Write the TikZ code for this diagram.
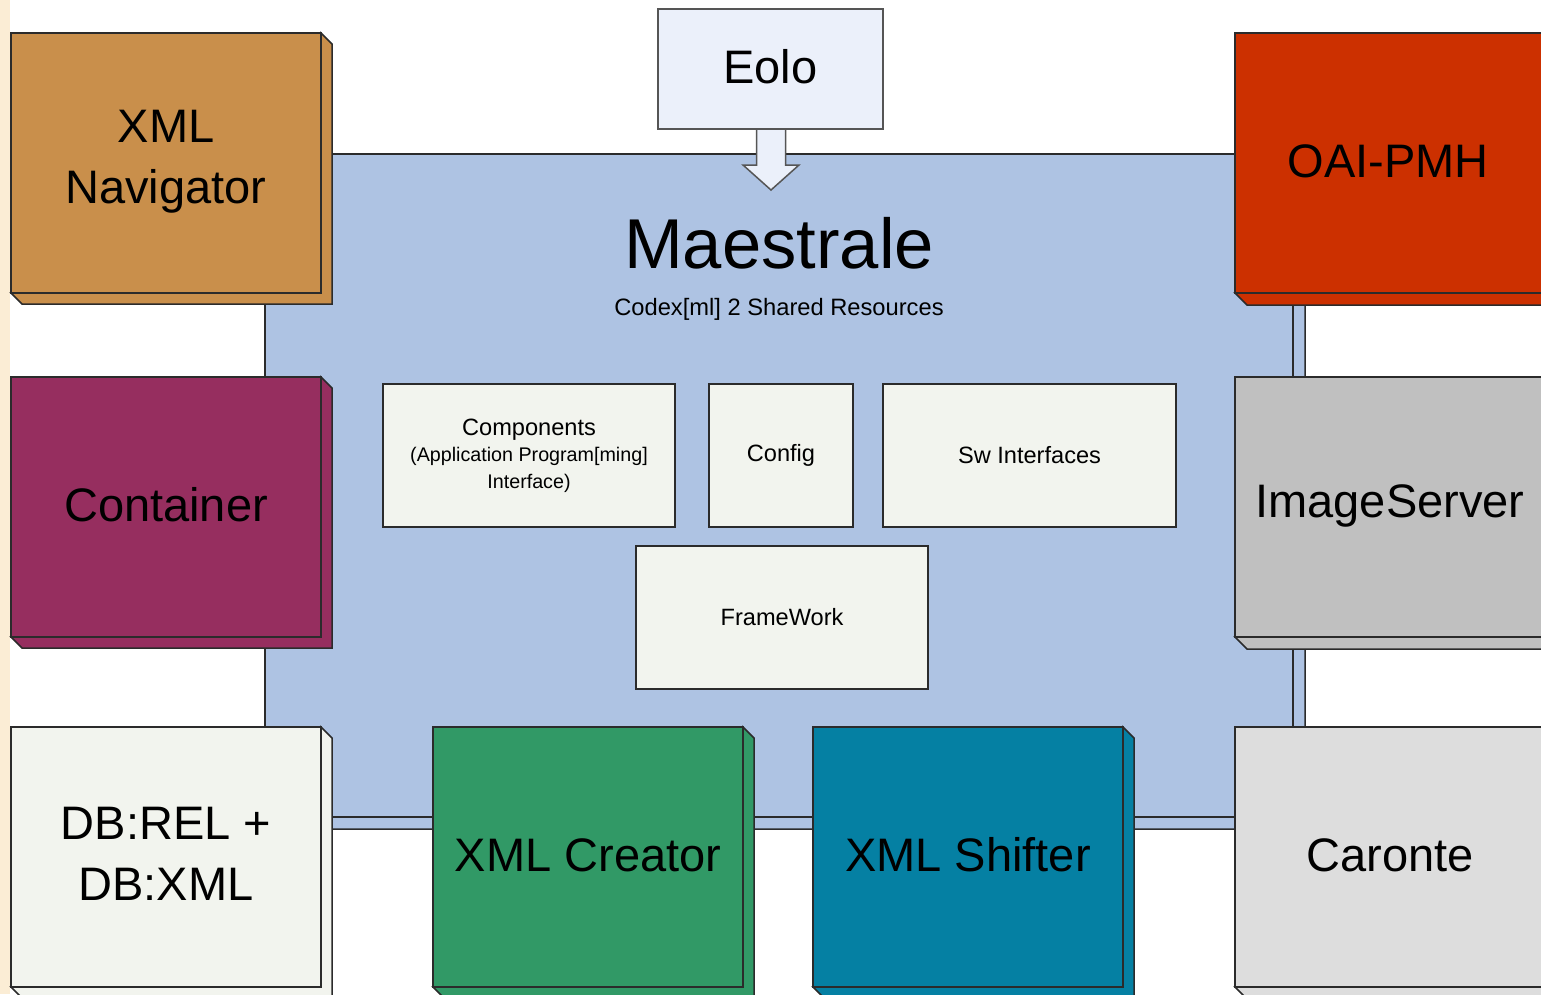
\documentclass[tikz,border=0pt]{standalone}
\usepackage{fontspec}
\setmainfont{Liberation Sans}
\definecolor{navc}{HTML}{C98F4B}
\definecolor{contc}{HTML}{962E5F}
\definecolor{dbc}{HTML}{F2F4EE}
\definecolor{creatc}{HTML}{319966}
\definecolor{shiftc}{HTML}{0580A3}
\definecolor{oaic}{HTML}{CC3000}
\definecolor{imgc}{HTML}{C0C0C0}
\definecolor{caronc}{HTML}{DDDDDD}
\definecolor{maesc}{HTML}{AEC3E3}
\definecolor{innerc}{HTML}{F2F4EE}
\definecolor{eoloc}{HTML}{EBF0FA}
\definecolor{linec}{HTML}{2B2B2B}
\definecolor{beige}{HTML}{FBEDD5}
\tikzset{
  lin/.style={draw=linec, line width=1.5pt},
  boxthree/.style={lin, fill=#1, rectangle, inner sep=0pt, outer sep=0pt,
    minimum width=310pt, minimum height=260pt, align=center,
    font=\fontsize{47}{61}\selectfont},
  inbox/.style={lin, fill=innerc, rectangle, inner sep=0pt, outer sep=0pt,
    minimum height=143pt, align=center, font=\fontsize{23.6}{27}\selectfont},
  lbl/.style={align=center, font=\fontsize{47}{61}\selectfont, inner sep=0pt},
}
\newcommand{\extrude}[3]{\filldraw[lin, fill=#2] (#1.north east) -- ++(#3,#3) -- ([shift={(#3,#3)}]#1.south east) -- ([shift={(#3,#3)}]#1.south west) -- (#1.south west) -- (#1.south east) -- cycle;}
\begin{document}
\begin{tikzpicture}[x=1pt,y=-1pt]
\useasboundingbox (0,0) rectangle (1541,994);
\clip (0,0) rectangle (1541,994);
\fill[white] (0,0) rectangle (1541,994);
\fill[beige] (0,0) rectangle (10,994);

% Maestrale
\node[boxthree=maesc, minimum width=1028pt, minimum height=663pt] (maes) at (779,485.5) {};
\extrude{maes}{maesc}{12}
\node[anchor=base, font=\fontsize{70.6}{80}\selectfont] (title) at (779,268) {Maestrale};
\node[anchor=base, font=\fontsize{23.7}{27}\selectfont] (subtitle) at (779,315) {Codex[ml] 2 Shared Resources};

% inner boxes
\node[inbox, minimum width=292pt, font=\fontsize{19.7}{26.5}\selectfont] (comp) at (529,455.5)
  {{\fontsize{23.6}{27}\selectfont Components}\\(Application Program[ming]\\Interface)};
\node[inbox, minimum width=144pt] (config) at (781,455.5) {Config};
\node[inbox, minimum width=293pt] (sw) at (1029.5,455.5) {Sw Interfaces};
\node[inbox, minimum width=292pt] (fw) at (782,617.5) {FrameWork};

% outer boxes
\node[boxthree=navc] (nav) at (166,163) {};
\extrude{nav}{navc}{11}
\node[lbl] (navt) at ([yshift=1pt]nav.center) {XML\\Navigator};
\node[boxthree=contc] (cont) at (166,507) {};
\extrude{cont}{contc}{11}
\node[lbl] (contt) at ([yshift=2pt]cont.center) {Container};
\node[boxthree=dbc] (db) at (166,857) {};
\extrude{db}{dbc}{11}
\node[lbl] (dbt) at ([yshift=3pt]db.center) {DB:REL +\\DB:XML};
\node[boxthree=creatc] (creator) at (588,857) {};
\extrude{creator}{creatc}{11}
\node[lbl] (creatort) at ([yshift=2pt]creator.center) {XML Creator};
\node[boxthree=shiftc] (shifter) at (968,857) {};
\extrude{shifter}{shiftc}{11}
\node[lbl] (shiftert) at ([yshift=2pt]shifter.center) {XML Shifter};
\node[boxthree=oaic] (oai) at (1390,163) {};
\extrude{oai}{oaic}{12}
\node[lbl] (oait) at ([xshift=-2pt,yshift=2pt]oai.center) {OAI-PMH};
\node[boxthree=imgc] (img) at (1390,507) {};
\extrude{img}{imgc}{12}
\node[lbl] (imgt) at ([yshift=1pt]img.center) {ImageServer};
\node[boxthree=caronc] (caronte) at (1390,857) {};
\extrude{caronte}{caronc}{12}
\node[lbl] (carontet) at ([yshift=2pt]caronte.center) {Caronte};

% Eolo
\node[lin, draw=linec!80, fill=eoloc, rectangle, inner sep=0pt, outer sep=0pt,
  minimum width=225pt, minimum height=120pt] (eolo) at (770.5,69) {};
\node[lbl] (eolot) at ([yshift=2.5pt]eolo.center) {Eolo};
\filldraw[lin, draw=linec!80, fill=eoloc] ([xshift=-14pt]eolo.south) -- ++(0,36) -- ++(-13.5,0) -- ++(28,25) -- ++(28,-25) -- ++(-13.5,0) -- ++(0,-36);
\draw[lin, draw=linec!80] (eolo.south west) -- (eolo.south east);
\end{tikzpicture}
\end{document}
